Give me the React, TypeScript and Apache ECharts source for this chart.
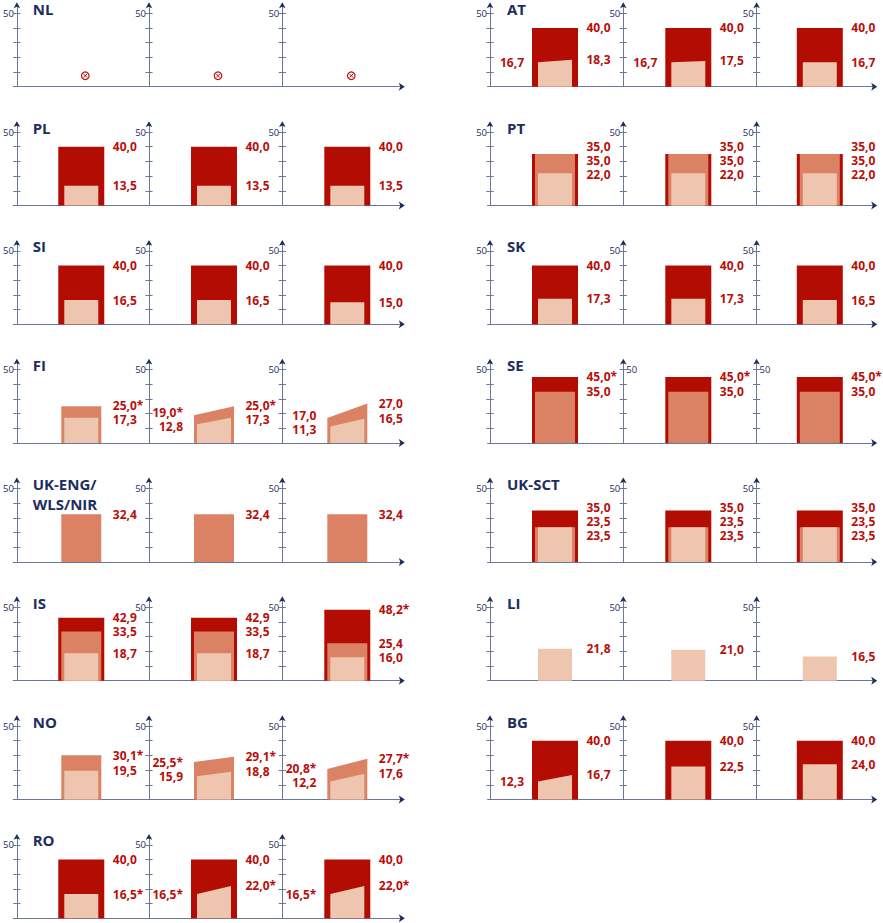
import React, { useEffect, useRef } from "react";
import * as echarts from "echarts";

type Val = number | [number, number] | null;

// ---------- DATA (left value, right value when the top slopes) ----------
const NL_dark: Val[] = [null, null, null];
const NL_medium: Val[] = [null, null, null];
const NL_light: Val[] = [null, null, null];
const NL_stars: number[] = [];

const AT_dark: Val[] = [40.0, 40.0, 40.0];
const AT_medium: Val[] = [null, null, null];
const AT_light: Val[] = [[16.7, 18.3], [16.7, 17.5], 16.7];
const AT_stars: number[] = [];

const PL_dark: Val[] = [40.0, 40.0, 40.0];
const PL_medium: Val[] = [null, null, null];
const PL_light: Val[] = [13.5, 13.5, 13.5];
const PL_stars: number[] = [];

const PT_dark: Val[] = [35.0, 35.0, 35.0];
const PT_medium: Val[] = [35.0, 35.0, 35.0];
const PT_light: Val[] = [22.0, 22.0, 22.0];
const PT_stars: number[] = [];

const SI_dark: Val[] = [40.0, 40.0, 40.0];
const SI_medium: Val[] = [null, null, null];
const SI_light: Val[] = [16.5, 16.5, 15.0];
const SI_stars: number[] = [];

const SK_dark: Val[] = [40.0, 40.0, 40.0];
const SK_medium: Val[] = [null, null, null];
const SK_light: Val[] = [17.3, 17.3, 16.5];
const SK_stars: number[] = [];

const FI_dark: Val[] = [null, null, null];
const FI_medium: Val[] = [25.0, [19.0, 25.0], [17.0, 27.0]];
const FI_light: Val[] = [17.3, [12.8, 17.3], [11.3, 16.5]];
const FI_stars: number[] = [25.0, 19.0];

const SE_dark: Val[] = [45.0, 45.0, 45.0];
const SE_medium: Val[] = [35.0, 35.0, 35.0];
const SE_light: Val[] = [null, null, null];
const SE_stars: number[] = [45.0];

const UKE_dark: Val[] = [null, null, null];
const UKE_medium: Val[] = [32.4, 32.4, 32.4];
const UKE_light: Val[] = [null, null, null];
const UKE_stars: number[] = [];

const UKS_dark: Val[] = [35.0, 35.0, 35.0];
const UKS_medium: Val[] = [23.5, 23.5, 23.5];
const UKS_light: Val[] = [23.5, 23.5, 23.5];
const UKS_stars: number[] = [];

const IS_dark: Val[] = [42.9, 42.9, 48.2];
const IS_medium: Val[] = [33.5, 33.5, 25.4];
const IS_light: Val[] = [18.7, 18.7, 16.0];
const IS_stars: number[] = [48.2];

const LI_dark: Val[] = [null, null, null];
const LI_medium: Val[] = [null, null, null];
const LI_light: Val[] = [21.8, 21.0, 16.5];
const LI_stars: number[] = [];

const NO_dark: Val[] = [null, null, null];
const NO_medium: Val[] = [30.1, [25.5, 29.1], [20.8, 27.7]];
const NO_light: Val[] = [19.5, [15.9, 18.8], [12.2, 17.6]];
const NO_stars: number[] = [30.1, 25.5, 29.1, 20.8, 27.7];

const BG_dark: Val[] = [40.0, 40.0, 40.0];
const BG_medium: Val[] = [null, null, null];
const BG_light: Val[] = [[12.3, 16.7], 22.5, 24.0];
const BG_stars: number[] = [];

const RO_dark: Val[] = [40.0, 40.0, 40.0];
const RO_medium: Val[] = [null, null, null];
const RO_light: Val[] = [16.5, [16.5, 22.0], [16.5, 22.0]];
const RO_stars: number[] = [16.5, 22.0];

const yTicks = [10, 20, 30, 40, 50];
const yLabels = [50];

// ---------- LAYOUT / STYLE ----------
const COL_X = [15.7, 490];
const X_END = [404.3, 876.7];
const PANEL_STEP = 133.3;
const PANEL_W = 130;
const ROW0 = 86.7;
const ROW_STEP = 118.8;
const PX_PER_UNIT = 1.47;
const Y_MAX = 55;
const H = Y_MAX * PX_PER_UNIT;
const BAR_HALF = 23;
const LABEL_GAP = 14;

const DARK = "#b30c02";
const MEDIUM = "#db8264";
const LIGHT = "#eec5ae";
const RED = "#b80f0a";
const NAVY = "#1d2c61";
const AXIS = "#6b7799";
const FONT = "'Open Sans', 'Noto Sans', sans-serif";

const blocks = [
  { name: "NL", col: 0, row: 0, dark: NL_dark, medium: NL_medium, light: NL_light, stars: NL_stars },
  { name: "PL", col: 0, row: 1, dark: PL_dark, medium: PL_medium, light: PL_light, stars: PL_stars },
  { name: "SI", col: 0, row: 2, dark: SI_dark, medium: SI_medium, light: SI_light, stars: SI_stars },
  { name: "FI", col: 0, row: 3, dark: FI_dark, medium: FI_medium, light: FI_light, stars: FI_stars },
  { name: "UK-ENG/\nWLS/NIR", col: 0, row: 4, dark: UKE_dark, medium: UKE_medium, light: UKE_light, stars: UKE_stars },
  { name: "IS", col: 0, row: 5, dark: IS_dark, medium: IS_medium, light: IS_light, stars: IS_stars },
  { name: "NO", col: 0, row: 6, dark: NO_dark, medium: NO_medium, light: NO_light, stars: NO_stars },
  { name: "RO", col: 0, row: 7, dark: RO_dark, medium: RO_medium, light: RO_light, stars: RO_stars },
  { name: "AT", col: 1, row: 0, dark: AT_dark, medium: AT_medium, light: AT_light, stars: AT_stars },
  { name: "PT", col: 1, row: 1, dark: PT_dark, medium: PT_medium, light: PT_light, stars: PT_stars },
  { name: "SK", col: 1, row: 2, dark: SK_dark, medium: SK_medium, light: SK_light, stars: SK_stars },
  { name: "SE", col: 1, row: 3, dark: SE_dark, medium: SE_medium, light: SE_light, stars: SE_stars },
  { name: "UK-SCT", col: 1, row: 4, dark: UKS_dark, medium: UKS_medium, light: UKS_light, stars: UKS_stars },
  { name: "LI", col: 1, row: 5, dark: LI_dark, medium: LI_medium, light: LI_light, stars: LI_stars },
  { name: "BG", col: 1, row: 6, dark: BG_dark, medium: BG_medium, light: BG_light, stars: BG_stars },
];

function fmt(v: number, stars: number[]) {
  const s = v.toFixed(1).replace(".", ",");
  return stars.some((x) => Math.abs(x - v) < 1e-6) ? s + "*" : s;
}

type Lab = { y: number; text: string; py?: number };

function spread(items: Lab[]) {
  items.sort((a, b) => a.y - b.y);
  let clusters = items.map((it) => ({ items: [it], center: it.y }));
  let changed = true;
  while (changed) {
    changed = false;
    for (let i = 0; i < clusters.length - 1; i++) {
      const a = clusters[i];
      const b = clusters[i + 1];
      const aBottom = a.center + ((a.items.length - 1) * LABEL_GAP) / 2;
      const bTop = b.center - ((b.items.length - 1) * LABEL_GAP) / 2;
      if (bTop - aBottom < LABEL_GAP) {
        const merged = [...a.items, ...b.items];
        const center = merged.reduce((s, x) => s + x.y, 0) / merged.length;
        clusters.splice(i, 2, { items: merged, center });
        changed = true;
        break;
      }
    }
  }
  clusters.forEach((c) =>
    c.items.forEach((it, k) => {
      it.py = c.center + (k - (c.items.length - 1) / 2) * LABEL_GAP;
    })
  );
}

function labelStyle(text: string, align: string) {
  return {
    text,
    fill: RED,
    fontFamily: FONT,
    fontWeight: "bold",
    fontSize: 12,
    lineHeight: 12,
    align,
    verticalAlign: "middle",
  };
}

function makePanelRender(layers: { v: Val; inset: number; color: string }[], stars: number[]) {
  return (params: any, api: any) => {
    const cs = params.coordSys;
    const base = api.coord([0, 0]);
    const cx = base[0];
    const by = base[1];
    const children: any[] = [];
    const right: Lab[] = [];
    const left: Lab[] = [];
    let any = false;
    layers.forEach((l) => {
      if (l.v == null) return;
      any = true;
      const lv = Array.isArray(l.v) ? l.v[0] : l.v;
      const rv = Array.isArray(l.v) ? l.v[1] : l.v;
      const half = BAR_HALF - l.inset;
      const yl = api.coord([0, lv])[1];
      const yr = api.coord([0, rv])[1];
      children.push({
        type: "polygon",
        shape: { points: [[cx - half, by], [cx - half, yl], [cx + half, yr], [cx + half, by]] },
        style: { fill: l.color },
      });
      right.push({ y: yr, text: fmt(rv, stars) });
      if (lv !== rv) left.push({ y: yl, text: fmt(lv, stars) });
    });
    spread(right);
    spread(left);
    right.forEach((lb) =>
      children.push({ type: "text", x: cx + BAR_HALF + 8.5, y: lb.py, style: labelStyle(lb.text, "left") })
    );
    left.forEach((lb) =>
      children.push({ type: "text", x: cx - BAR_HALF - 8, y: lb.py, style: labelStyle(lb.text, "right") })
    );
    if (!any) {
      const mx = cx + 4;
      const my = by - 11;
      children.push({ type: "circle", shape: { cx: mx, cy: my, r: 3.8 }, style: { fill: "#fff", stroke: "#c0150f", lineWidth: 1.2 } });
      children.push({ type: "line", shape: { x1: mx - 1.8, y1: my - 1.8, x2: mx + 1.8, y2: my + 1.8 }, style: { stroke: "#c0150f", lineWidth: 1 } });
      children.push({ type: "line", shape: { x1: mx + 1.8, y1: my - 1.8, x2: mx - 1.8, y2: my + 1.8 }, style: { stroke: "#c0150f", lineWidth: 1 } });
    }
    // y-axis arrowhead
    const ax = cs.x;
    const top = cs.y;
    children.push({
      type: "polygon",
      shape: { points: [[ax, top - 3.5], [ax - 3.3, top + 2.3], [ax, top + 1], [ax + 3.3, top + 2.3]] },
      style: { fill: NAVY },
    });
    return { type: "group", children };
  };
}

const arrowRenderX = (params: any) => {
  const cs = params.coordSys;
  const x = cs.x + cs.width;
  const y = cs.y + cs.height;
  return {
    type: "polygon",
    shape: { points: [[x + 3.5, y], [x - 2.5, y - 4], [x - 1, y], [x - 2.5, y + 4]] },
    style: { fill: NAVY },
  };
};

function buildOption() {
  const grid: any[] = [];
  const xAxis: any[] = [];
  const yAxis: any[] = [];
  const series: any[] = [];
  const title: any[] = [];

  blocks.forEach((b) => {
    const baseline = ROW0 + b.row * ROW_STEP;
    const colX = COL_X[b.col];
    title.push({
      text: b.name,
      left: colX + 17,
      top: baseline - 88,
      padding: 0,
      textStyle: { fontFamily: FONT, fontWeight: "bold", fontSize: 15, color: NAVY, lineHeight: 20 },
    });
    for (let p = 0; p < 3; p++) {
      const ax = colX + p * PANEL_STEP;
      const gi = grid.length;
      grid.push({ left: ax, top: baseline - H, width: PANEL_W, height: H });
      xAxis.push({ type: "category", gridIndex: gi, data: ["x"], show: false });
      const yi = yAxis.length;
      yAxis.push({
        type: "value",
        gridIndex: gi,
        position: "left",
        offset: 0,
        min: 0,
        max: Y_MAX,
        axisLine: { show: true, lineStyle: { color: AXIS, width: 1 } },
        axisTick: { show: true, customValues: yTicks, length: 3.6, lineStyle: { color: AXIS } },
        axisLabel: {
          show: true,
          customValues: yLabels,
          inside: b.name === "SE" && p > 0,
          margin: 3,
          fontSize: 9.5,
          color: NAVY,
          fontFamily: FONT,
        },
        splitLine: { show: false },
      });
      yAxis.push({
        type: "value",
        gridIndex: gi,
        position: "left",
        offset: 0,
        min: 0,
        max: Y_MAX,
        axisLine: { show: false },
        axisTick: { show: true, inside: true, customValues: yTicks, length: 3.6, lineStyle: { color: AXIS } },
        axisLabel: { show: false },
        splitLine: { show: false },
      });
      series.push({
        type: "custom",
        coordinateSystem: "cartesian2d",
        xAxisIndex: gi,
        yAxisIndex: yi,
        data: [[0, 0]],
        silent: true,
        clip: false,
        z: 5,
        renderItem: makePanelRender(
          [
            { v: b.dark[p], inset: 0, color: DARK },
            { v: b.medium[p], inset: 3, color: MEDIUM },
            { v: b.light[p], inset: 6, color: LIGHT },
          ],
          b.stars
        ),
      });
    }
    const gi = grid.length;
    const left = colX - 2.5;
    grid.push({ left, top: baseline - 10, width: X_END[b.col] - 3 - left, height: 10 });
    xAxis.push({
      type: "value",
      gridIndex: gi,
      min: 0,
      max: 1,
      axisLine: { show: true, onZero: false, lineStyle: { color: AXIS, width: 1 } },
      axisTick: { show: false },
      axisLabel: { show: false },
      splitLine: { show: false },
    });
    yAxis.push({ type: "value", gridIndex: gi, min: 0, max: 1, show: false });
    series.push({
      type: "custom",
      coordinateSystem: "cartesian2d",
      xAxisIndex: gi,
      yAxisIndex: yAxis.length - 1,
      data: [[0, 0]],
      silent: true,
      clip: false,
      z: 6,
      renderItem: arrowRenderX,
    });
  });

  return {
    animation: false,
    backgroundColor: "#ffffff",
    title,
    grid,
    xAxis,
    yAxis,
    series,
  };
}

export default function App() {
  const ref = useRef<HTMLDivElement>(null);
  useEffect(() => {
    const chart = echarts.init(ref.current as HTMLDivElement, null, { renderer: "svg" });
    chart.setOption(buildOption() as any);
    return () => chart.dispose();
  }, []);
  return (
    <div
      ref={ref}
      style={{ position: "fixed", left: 0, top: 0, width: 883, height: 923, background: "#fff" }}
    />
  );
}
